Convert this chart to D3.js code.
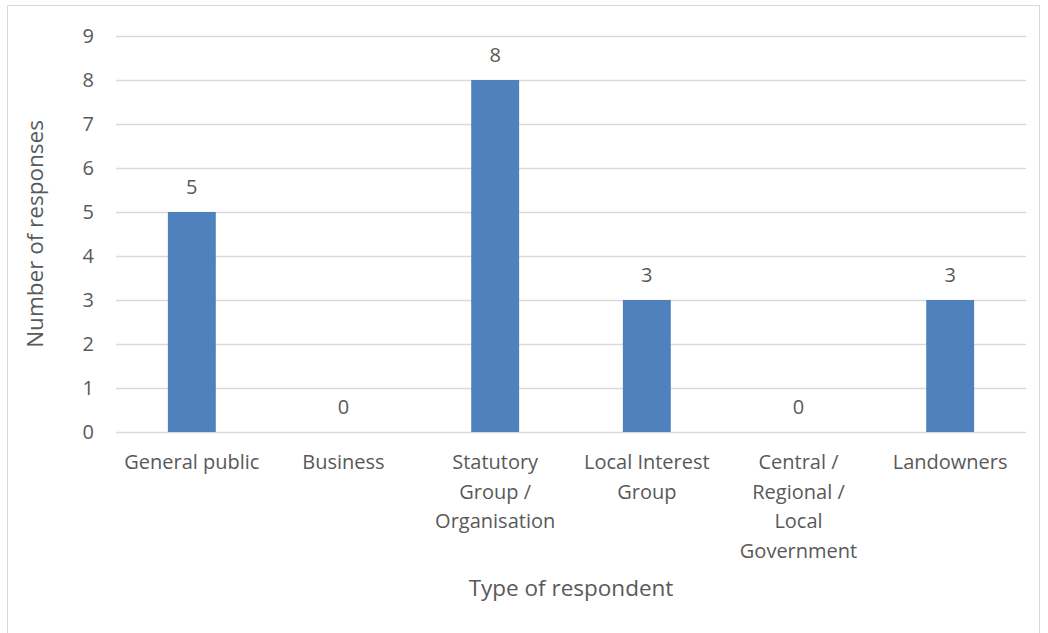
<!DOCTYPE html>
<html><head><meta charset="utf-8">
<script src="https://cdn.jsdelivr.net/npm/d3@7"></script>
<style>body{margin:0;background:#fff}svg{display:block}text{font-family:"Open Sans",sans-serif;fill:#595959}</style>
</head><body><svg id="c" width="1048" height="633"></svg>
<script>
const categories = ["General public","Business","Statutory Group / Organisation","Local Interest Group","Central / Regional / Local Government","Landowners"];
const categoryLines = [["General public"],["Business"],["Statutory","Group /","Organisation"],["Local Interest","Group"],["Central /","Regional /","Local","Government"],["Landowners"]];
const values = [5,0,8,3,0,3];
const yTicks = [0,1,2,3,4,5,6,7,8,9];
const xTitle = "Type of respondent";
const yTitle = "Number of responses";

const svg = d3.select("#c");
svg.append("rect").attr("x",7.5).attr("y",5.5).attr("width",1032).attr("height",640).attr("fill","none").attr("stroke","#d9d9d9");
const L=116,R=1026,T=36,B=432;
const x = d3.scaleBand().domain(categories).range([L,R]).padding(0);
const y = d3.scaleLinear().domain([0,9]).range([B,T]);
const bw = x.bandwidth()*0.316;
svg.append("g").selectAll("line").data(yTicks).join("line")
  .attr("x1",L).attr("x2",R).attr("y1",d=>Math.round(y(d))+0.5).attr("y2",d=>Math.round(y(d))+0.5)
  .attr("stroke","#d9d9d9").attr("stroke-width",1.3);
svg.append("g").selectAll("text").data(yTicks).join("text")
  .attr("x",94).attr("y",d=>y(d)).attr("dy","0.35em").attr("text-anchor","end").attr("font-size",20).text(d=>d);
svg.append("g").selectAll("rect").data(values).join("rect")
  .attr("x",(d,i)=>x(categories[i])+x.bandwidth()/2-bw/2).attr("width",bw)
  .attr("y",d=>y(d)).attr("height",d=>B-y(d)).attr("fill","#4f81bd");
svg.append("g").selectAll("text").data(values).join("text")
  .attr("x",(d,i)=>x(categories[i])+x.bandwidth()/2).attr("y",d=>y(d)-25).attr("dy","0.35em")
  .attr("text-anchor","middle").attr("font-size",20).text(d=>d);
const xl = svg.append("g").selectAll("text").data(categories).join("text")
  .attr("x",d=>x(d)+x.bandwidth()/2).attr("y",462).attr("text-anchor","middle").attr("font-size",20);
xl.each(function(d,i){
  d3.select(this).selectAll("tspan").data(categoryLines[i]).join("tspan")
    .attr("x",x(d)+x.bandwidth()/2).attr("y",(t,j)=>462+j*29.5).attr("dy","0.35em").text(t=>t);
});
svg.append("text").attr("x",(L+R)/2).attr("y",588).attr("dy","0.35em").attr("text-anchor","middle").attr("font-size",22.5).text(xTitle);
svg.append("text").attr("transform",`translate(35,${(T+B)/2}) rotate(-90)`).attr("dy","0.35em").attr("text-anchor","middle").attr("font-size",22.5).text(yTitle);
</script></body></html>
